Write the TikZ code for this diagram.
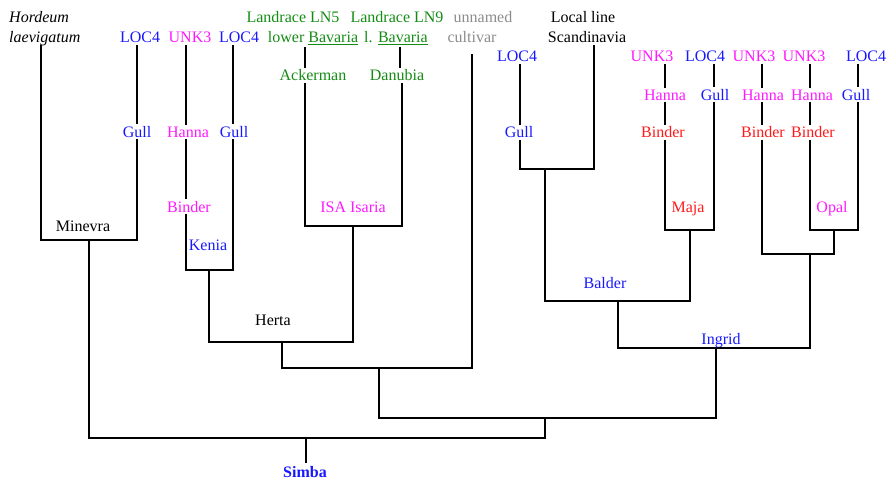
\documentclass[tikz,border=0pt]{standalone}
\usepackage{fontspec}
\setmainfont{Liberation Serif}
\definecolor{cblue}{RGB}{25,25,255}
\definecolor{cmag}{RGB}{255,25,255}
\definecolor{cgreen}{RGB}{20,140,20}
\definecolor{cred}{RGB}{255,25,25}
\definecolor{cgray}{RGB}{140,140,140}
\begin{document}
\begin{tikzpicture}[x=1pt,y=-1pt,
  lbl/.style={anchor=base,inner xsep=1pt,inner ysep=2.8pt,font=\fontsize{16}{19}\selectfont},
  bl/.style={lbl,text=cblue},
  mg/.style={lbl,text=cmag},
  gr/.style={lbl,text=cgreen},
  rd/.style={lbl,text=cred},
  gy/.style={lbl,text=cgray},
  bk/.style={lbl,text=black},
  edge/.style={draw=black,line width=2pt,line cap=rect},
  thin/.style={draw=black,line width=1.5pt}]
\useasboundingbox (0,0) rectangle (888,479);
% ---------- left part ----------
\node[bk,anchor=base west] (hord) at (8,22.5) {\itshape Hordeum};
\node[bk,anchor=base west] (laev) at (8,42.5) {\itshape laevigatum};
\node[bl] (locA) at (140,42.7) {LOC4};
\node[bl] (gullA) at (137,137.3) {Gull};
\node[mg] (unkA) at (190,42.7) {UNK3};
\node[mg] (hanA) at (188,137.3) {Hanna};
\node[mg] (binA) at (189,212.3) {Binder};
\node[bl] (locB) at (239,42.7) {LOC4};
\node[bl] (gullB) at (234,137.3) {Gull};
\node[bl] (kenia) at (208,250.7) {Kenia};
\node[bk] (minevra) at (83,231.7) {Minevra};
\coordinate (hordc) at (41,46);
\coordinate (minL) at (41,240);
\coordinate (minR) at (137,240);
\coordinate (minC) at (89,240);
\coordinate (gullAx) at (137,0);
\draw[edge] (hordc) -- (minL) -- (minR) -- (minR |- gullA.south);
\draw[edge] (locA.south -| gullAx) -- (gullA.north -| gullAx);
\coordinate (kenL) at (186,270);
\coordinate (kenR) at (233,270);
\coordinate (kenC) at (209,270);
\draw[edge] (unkA.south -| kenL) -- (hanA.north -| kenL);
\draw[edge] (hanA.south -| kenL) -- (binA.north -| kenL);
\draw[edge] (binA.south -| kenL) -- (kenL) -- (kenR) -- (gullB.south -| kenR);
\draw[edge] (locB.south -| kenR) -- (gullB.north -| kenR);
% ---------- green part ----------
\node[gr] (ln5) at (293,22.5) {Landrace LN5};
\node[gr] (lb5) at (313,42.5) {lower \underline{Bavaria}};
\node[gr] (ack) at (313,80.7) {Ackerman};
\node[gr] (ln9) at (397,22.5) {Landrace LN9};
\node[gr] (lb9) at (396,42.5) {l. \underline{Bavaria}};
\node[gr] (dan) at (397,80.7) {Danubia};
\node[mg] (isa) at (353,212.3) {ISA Isaria};
\coordinate (isaL) at (305,226);
\coordinate (isaR) at (402,226);
\coordinate (isaC) at (353,226);
\coordinate (danx) at (400,0);
\draw[edge] (lb5.south -| isaL) -- (ack.north -| isaL);
\draw[edge] (ack.south -| isaL) -- (isaL) -- (isaR) -- (dan.south -| isaR);
\draw[edge] (lb9.south -| danx) -- (dan.north -| danx);
% Herta
\node[bk] (herta) at (273,325.7) {Herta};
\coordinate (herL) at (209,342);
\coordinate (herR) at (353,342);
\coordinate (herC) at (282,342);
\draw[edge] (kenC) -- (herL) -- (herR) -- (isaC);
% unnamed cultivar
\node[gy] (unn) at (483,22.5) {unnamed};
\node[gy] (cult) at (472,42.5) {cultivar};
\coordinate (unnTop) at (472,55);
\coordinate (yL) at (282,368);
\coordinate (yR) at (472,368);
\coordinate (yC) at (379,368);
\draw[edge] (herC) -- (yL) -- (yR) -- (unnTop);
% ---------- right part ----------
\node[bl] (locC) at (517,61.7) {LOC4};
\node[bl] (gullC) at (519,137.7) {Gull};
\node[bk] (loc) at (583,22.5) {Local line};
\node[bk] (scan) at (587,42.5) {Scandinavia};
\coordinate (gbL) at (520,169);
\coordinate (gbR) at (594,169);
\coordinate (gbC) at (545,169);
\draw[edge] (locC.south -| gbL) -- (gullC.north -| gbL);
\draw[edge] (gullC.south -| gbL) -- (gbL) -- (gbR) -- (scan.south -| gbR);
% Maja
\node[mg] (unkD) at (652,61.7) {UNK3};
\node[mg] (hanD) at (665,100) {Hanna};
\node[rd] (binD) at (663,137.7) {Binder};
\node[bl] (locD) at (705,61.7) {LOC4};
\node[bl] (gullD) at (715,100) {Gull};
\node[rd] (maja) at (688,212.3) {Maja};
\coordinate (majL) at (665,230);
\coordinate (majR) at (714,230);
\coordinate (majC) at (690,230);
\draw[edge] (unkD.south -| majL) -- (hanD.north -| majL);
\draw[edge] (hanD.south -| majL) -- (binD.north -| majL);
\draw[edge] (binD.south -| majL) -- (majL) -- (majR) -- (gullD.south -| majR);
\draw[edge] (locD.south -| majR) -- (gullD.north -| majR);
% Balder
\node[bl] (balder) at (605,288.3) {Balder};
\coordinate (balL) at (545,301);
\coordinate (balR) at (690,301);
\coordinate (balC) at (618,301);
\draw[edge] (gbC) -- (balL) -- (balR) -- (majC);
% Opal group
\node[mg] (unkE) at (754,61.7) {UNK3};
\node[mg] (hanE) at (763,100) {Hanna};
\node[rd] (binE) at (763,137.7) {Binder};
\node[mg] (unkF) at (804,61.7) {UNK3};
\node[mg] (hanF) at (812,100) {Hanna};
\node[rd] (binF) at (813,137.7) {Binder};
\node[bl] (locG) at (866,61.7) {LOC4};
\node[bl] (gullG) at (856,100) {Gull};
\node[mg] (opal) at (832,212.3) {Opal};
\coordinate (opL) at (810,230);
\coordinate (opR) at (858,230);
\coordinate (opC) at (834,230);
\coordinate (rbL) at (762,254);
\coordinate (rbR) at (834,254);
\coordinate (rbC) at (810,254);
\draw[edge] (unkE.south -| rbL) -- (hanE.north -| rbL);
\draw[edge] (hanE.south -| rbL) -- (binE.north -| rbL);
\draw[edge] (unkF.south -| opL) -- (hanF.north -| opL);
\draw[edge] (hanF.south -| opL) -- (binF.north -| opL);
\draw[edge] (locG.south -| opR) -- (gullG.north -| opR);
\draw[edge] (binF.south -| opL) -- (opL) -- (opR) -- (gullG.south -| opR);
\draw[edge] (binE.south -| rbL) -- (rbL) -- (rbR) -- (opC);
% Ingrid
\node[bl] (ingrid) at (721,344.3) {Ingrid};
\coordinate (ingL) at (618,348);
\coordinate (ingR) at (810,348);
\coordinate (ingC) at (716,348);
\draw[edge] (balC) -- (ingL) -- (ingR) -- (rbC);
% lower levels
\coordinate (xL) at (379,418);
\coordinate (xR) at (716,418);
\coordinate (xC) at (545,418);
\draw[edge] (yC) -- (xL) -- (xR) -- (ingC);
\coordinate (bL) at (89,438);
\coordinate (bR) at (545,438);
\coordinate (bC) at (306,438);
\draw[edge] (minC) -- (bL) -- (bR) -- (xC);
\node[bl,font=\fontsize{16}{19}\selectfont\bfseries] (simba) at (305,477) {Simba};
\draw[thin] (bC) -- (simba.north -| bC);
\end{tikzpicture}
\end{document}
